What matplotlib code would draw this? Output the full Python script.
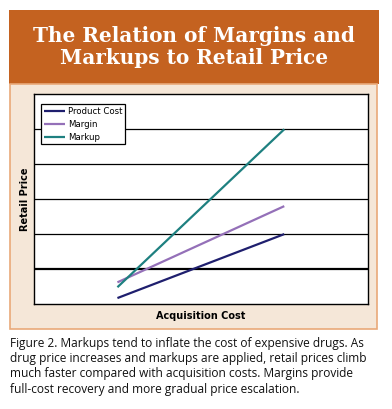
import matplotlib
matplotlib.use("Agg")
import matplotlib.pyplot as plt
from matplotlib.patches import Rectangle

# Data
acq_cost = [2.5, 7.5]
product_cost = [0.17, 2.0]
margin = [0.62, 2.8]
markup = [0.48, 5.0]
series_names = ["Product Cost", "Margin", "Markup"]
title = "The Relation of Margins and\nMarkups to Retail Price"
xlabel = "Acquisition Cost"
ylabel = "Retail Price"
caption = ("Figure 2. Markups tend to inflate the cost of expensive drugs. As\n"
           "drug price increases and markups are applied, retail prices climb\n"
           "much faster compared with acquisition costs. Margins provide\n"
           "full-cost recovery and more gradual price escalation.")

W, H = 392, 409
fig = plt.figure(figsize=(W / 100, H / 100), dpi=100)
fig.patch.set_facecolor("white")

def px(x0, y0, x1, y1):
    return [x0 / W, 1 - y1 / H, (x1 - x0) / W, (y1 - y0) / H]

# header
fig.patches.append(Rectangle((9 / W, 1 - 84 / H), (379 - 9) / W, (84 - 10) / H,
                             transform=fig.transFigure, facecolor="#C46220",
                             edgecolor="none", zorder=-2))
# beige panel
fig.patches.append(Rectangle((10 / W, 1 - 329 / H), (377 - 10) / W, (329 - 84) / H,
                             transform=fig.transFigure, facecolor="#F5E7D8",
                             edgecolor="#E9A979", linewidth=1.2, zorder=-2))
fig.text(194 / W, 1 - 47 / H, title, ha="center", va="center", color="white",
         fontsize=14.4, fontweight="heavy", family="DejaVu Serif", linespacing=1.12)

ax = fig.add_axes(px(34, 94.3, 367.7, 304))
ax.set_zorder(5)
ax.set_facecolor("white")
ax.set_xlim(0, 10)
ax.set_ylim(0, 6)
for y in range(1, 6):
    ax.axhline(y, color="black", lw=1.6 if y == 1 else 0.9, zorder=1)

colors = ["#1F1F6E", "#9470B8", "#1E8080"]
for vals, name, c in zip([product_cost, margin, markup], series_names, colors):
    ax.plot(acq_cost, vals, color=c, lw=1.6, label=name, zorder=3,
            solid_capstyle="butt")

for s in ax.spines.values():
    s.set_linewidth(1.0)
    s.set_color("black")
ax.set_xticks([])
ax.set_yticks([])
ax.set_xlabel(xlabel, fontsize=7, fontweight="bold", labelpad=5)
ax.set_ylabel(ylabel, fontsize=7, fontweight="bold", labelpad=3)

leg = ax.legend(loc="upper left", bbox_to_anchor=((41.3 - 34) / 333.7, 1 - (104.3 - 94.3) / 209.7),
                fontsize=6.2, frameon=True, fancybox=False, framealpha=1,
                edgecolor="black", handlelength=2.5, handletextpad=0.3,
                borderpad=0.3, labelspacing=0.45, borderaxespad=0)
leg.get_frame().set_linewidth(0.9)

fig.text(10 / W, 1 - 337 / H, caption, ha="left", va="top", fontsize=8.6,
         family="Open Sans", linespacing=1.22, color="#111111")

fig.savefig("out.png", dpi=100)
